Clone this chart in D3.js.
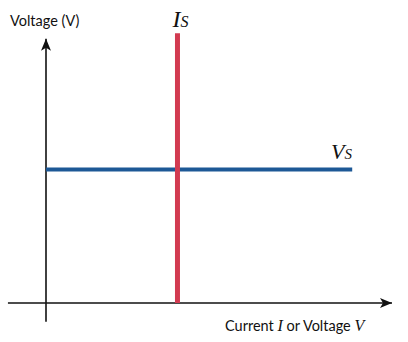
<!DOCTYPE html>
<html lang="en">
<head>
  <meta charset="UTF-8">
  <script src="https://d3js.org/d3.v7.min.js"></script>
  <style>
    body { margin: 0; background: #fff; }
    text { font-family: "Lato", "Open Sans", sans-serif; }
  </style>
</head>
<body>
  <script>
    // source current and source voltage (arbitrary units)
    const sourceCurrent = 3.8
    const sourceVoltage = 5.0
    const currentLine = [0, 10.1]          // I_S spans the voltage range
    const voltageLine = [0, 8.85]          // V_S spans the current range
    const xAxisExtent = [-1.1, 10]
    const yAxisExtent = [-0.7, 9.9]

    const width = 408, height = 342

    const svg = d3.select("body").append("svg")
        .attr("width", width)
        .attr("height", height)

    const x = d3.scaleLinear().domain([0, 10]).range([46, 392])
    const y = d3.scaleLinear().domain([0, 10]).range([303, 36])

    const defs = svg.append("defs")
    defs.append("marker")
        .attr("id", "arrow")
        .attr("viewBox", "0 0 12 10")
        .attr("refX", 12).attr("refY", 5)
        .attr("markerWidth", 12).attr("markerHeight", 10)
        .attr("markerUnits", "userSpaceOnUse")
        .attr("orient", "auto")
      .append("path")
        .attr("d", "M0,0 L12,5 L0,10 L3,5 Z")
        .attr("fill", "#111")

    // axes
    svg.append("line")
        .attr("x1", x(xAxisExtent[0])).attr("x2", x(xAxisExtent[1]))
        .attr("y1", y(0)).attr("y2", y(0))
        .attr("stroke", "#111").attr("stroke-width", 1.6)
        .attr("marker-end", "url(#arrow)")
    svg.append("line")
        .attr("x1", x(0)).attr("x2", x(0))
        .attr("y1", y(yAxisExtent[0])).attr("y2", y(yAxisExtent[1]))
        .attr("stroke", "#111").attr("stroke-width", 1.6)
        .attr("marker-end", "url(#arrow)")

    // V_S line
    svg.append("line")
        .attr("x1", x(voltageLine[0])).attr("x2", x(voltageLine[1]))
        .attr("y1", y(sourceVoltage)).attr("y2", y(sourceVoltage))
        .attr("stroke", "#1d5896").attr("stroke-width", 4)

    // I_S line
    svg.append("line")
        .attr("x1", x(sourceCurrent)).attr("x2", x(sourceCurrent))
        .attr("y1", y(currentLine[0])).attr("y2", y(currentLine[1]))
        .attr("stroke", "#d23a50").attr("stroke-width", 5)

    // labels
    svg.append("text")
        .attr("x", 10).attr("y", 26)
        .style("font-size", "14.5px")
        .attr("fill", "#111")
        .text("Voltage (V)")

    const xl = svg.append("text")
        .attr("x", 225).attr("y", 331)
        .style("font-size", "14.5px")
        .attr("fill", "#111")
    xl.append("tspan").text("Current ")
    xl.append("tspan").style("font-family", "Liberation Serif").style("font-style", "italic").style("font-size", "16px").text("I")
    xl.append("tspan").text(" or Voltage ")
    xl.append("tspan").style("font-family", "Liberation Serif").style("font-style", "italic").style("font-size", "16px").text("V")

    const il = svg.append("text")
        .attr("x", x(sourceCurrent) - 5).attr("y", 27)
        .style("font-family", "Liberation Serif").style("font-style", "italic")
        .attr("fill", "#111")
    il.append("tspan").style("font-size", "24px").text("I")
    il.append("tspan").style("font-size", "16px").text("S")

    const vl = svg.append("text")
        .attr("x", 331).attr("y", 159)
        .style("font-family", "Liberation Serif").style("font-style", "italic")
        .attr("fill", "#111")
    vl.append("tspan").style("font-size", "22px").text("V")
    vl.append("tspan").style("font-size", "15px").text("S")
  </script>
</body>
</html>
